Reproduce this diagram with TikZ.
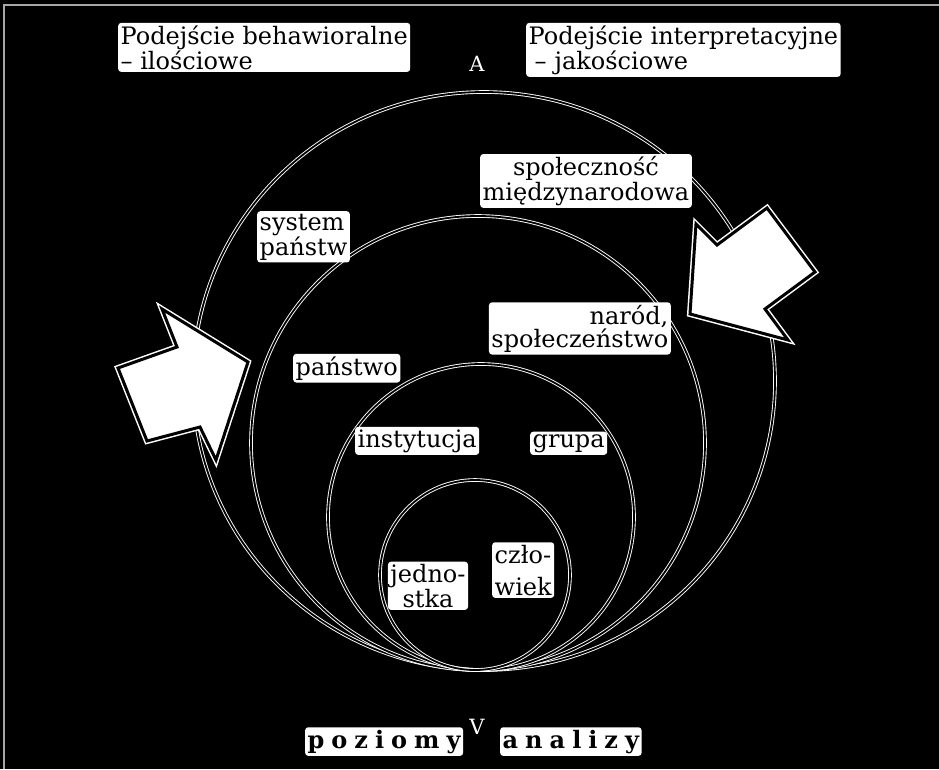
\documentclass[tikz,border=0pt]{standalone}
\usepackage{fontspec}
\setmainfont{DejaVu Serif}
\tikzset{
  lab/.style={fill=white, text=black, inner sep=2.5pt, rounded corners=3pt, font=\fontsize{24}{21}\selectfont},
  ring/.style={draw=white, line width=0.9pt, double=black, double distance=1.8pt},
  arrowrim/.style={draw=white, line width=6pt, line join=miter},
  arrowbody/.style={fill=white, draw=black, line width=3pt, line join=miter},
  dirsign/.style={text=white, font=\fontsize{21}{21}\selectfont, inner sep=0pt},
  frameline/.style={draw=black!35, line width=1.5pt}
}
\begin{document}
\begin{tikzpicture}[x=1pt, y=-1pt]
\fill[black] (0,0) rectangle (939,769);
\useasboundingbox (0,0) rectangle (939,769);
\draw[frameline] (4,769) -- (4,5) -- (939,5);
% nested circles, all touching at the bottom
\draw[ring] (484,381) ellipse [x radius=291pt, y radius=289pt];
\draw[ring] (478,443) circle [radius=227pt];
\draw[ring] (481,517) circle [radius=153pt];
\draw[ring] (475,575) circle [radius=95pt];
% block arrows
\coordinate (la1) at (118,368);
\coordinate (la2) at (177,347);
\coordinate (la3) at (162,309);
\coordinate (la4) at (248,362);
\coordinate (la5) at (216,460);
\coordinate (la6) at (200,427);
\coordinate (la7) at (147,441);
\draw[arrowrim] (la1) -- (la2) -- (la3) -- (la4) -- (la5) -- (la6) -- (la7) -- cycle;
\draw[arrowbody] (la1) -- (la2) -- (la3) -- (la4) -- (la5) -- (la6) -- (la7) -- cycle;
\coordinate (ra1) at (696,224);
\coordinate (ra2) at (717,245);
\coordinate (ra3) at (767,208);
\coordinate (ra4) at (815,272);
\coordinate (ra5) at (765,309);
\coordinate (ra6) at (788,340);
\coordinate (ra7) at (690,314);
\draw[arrowrim] (ra1) -- (ra2) -- (ra3) -- (ra4) -- (ra5) -- (ra6) -- (ra7) -- cycle;
\draw[arrowbody] (ra1) -- (ra2) -- (ra3) -- (ra4) -- (ra5) -- (ra6) -- (ra7) -- cycle;
% labels (base anchor = baseline of the last line)
\node[lab, anchor=base west, align=left] (beh) at (118,69) {Podejście behawioralne\\– ilościowe};
\node[lab, anchor=base west, align=left] (int) at (526,69) {Podejście interpretacyjne\\\hspace*{6pt}–\hspace*{8pt}jakościowe};
\node[dirsign] (up) at (477,64) {A};
\node[lab, anchor=base, align=center, font=\fontsize{24}{20}\selectfont] (spm) at (586,200) {społeczność\\międzynarodowa};
\node[lab, anchor=base west, align=left, font=\fontsize{24}{19}\selectfont] (sys) at (257,255) {system\\państw};
\node[lab, anchor=base east, align=right, font=\fontsize{24}{19}\selectfont] (nar) at (671,347) {naród,\\społeczeństwo};
\node[lab, anchor=base west] (pan) at (293,375) {państwo};
\node[lab, anchor=base west] (ins) at (355,447) {instytucja};
\node[lab, anchor=base west] (gru) at (530,447) {grupa};
\node[lab, anchor=base, align=center, font=\fontsize{24}{22}\selectfont] (jed) at (428,607) {jedno-\\stka};
\node[lab, anchor=base west, align=left, font=\fontsize{24}{32}\selectfont] (czl) at (492,595) {czło-\\wiek};
\node[lab, anchor=base west, font=\bfseries\fontsize{24}{24}\selectfont] (poz) at (305,748) {p\kern7pt o\kern7pt z\kern7pt i\kern7pt o\kern7pt m\kern7pt y};
\node[dirsign] (down) at (477,727) {V};
\node[lab, anchor=base west, font=\bfseries\fontsize{24}{24}\selectfont] (ana) at (500,748) {a\kern7pt n\kern7pt a\kern7pt l\kern7pt i\kern7pt z\kern7pt y};
\end{tikzpicture}
\end{document}
